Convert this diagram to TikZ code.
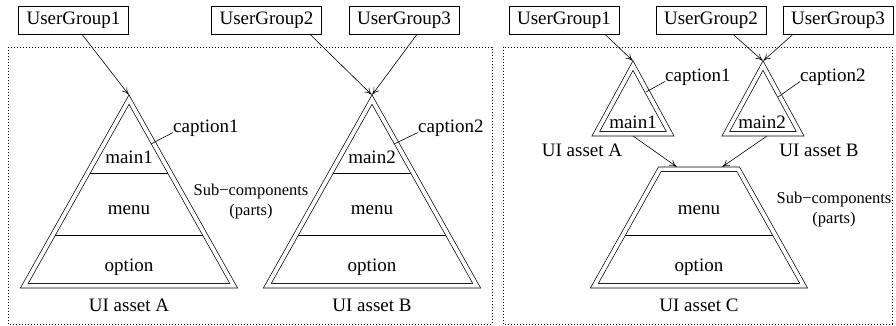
\documentclass[tikz,border=0pt]{standalone}
\usepackage{fontspec}
\setmainfont{Liberation Serif}
\usetikzlibrary{arrows.meta,calc}

\tikzset{
  grp/.style={draw, line width=0.7pt, inner xsep=8pt, minimum height=28pt,
              font=\fontsize{19}{22}\selectfont},
  lbl/.style={font=\fontsize{19}{22}\selectfont, inner sep=0pt,
              text height=13pt, text depth=4pt},
  sublbl/.style={font=\fontsize{16.5}{20}\selectfont, align=center, inner sep=0pt},
  panel/.style={line width=0.8pt, dash pattern=on 0.8pt off 2.2pt},
  outline/.style={draw, line width=0.7pt, double=white, double distance=3.8pt,
                  line join=miter},
  partline/.style={line width=0.7pt},
  link/.style={line width=0.6pt, -{To[length=7pt,width=6.5pt]}, shorten >=0.5pt},
  leader/.style={line width=0.6pt},
}

\begin{document}
\begin{tikzpicture}[x=1pt,y=-1pt]
\useasboundingbox (0,0) rectangle (896,326);

% dotted frames of the two variants
\draw[panel] (8,47) rectangle (492,324);
\draw[panel] (503,47) rectangle (892,324);

% ---------- left variant: two separate assets ----------
\node[grp] (gA1) at (73.5,20) {UserGroup1};
\node[grp] (gA2) at (266.5,20) {UserGroup2};
\node[grp] (gA3) at (404,20) {UserGroup3};

% asset A (mid-line of the double outline)
\coordinate (aT) at (129,99.6);
\coordinate (aL) at (24.3,285.75);
\coordinate (aR) at (233.7,285.75);
\coordinate (aTop) at (129,95);
\begin{scope}
  \clip (aT) -- (aL) -- (aR) -- cycle;
  \draw[partline] (0,173) -- (896,173) (0,235) -- (896,235);
\end{scope}
\draw[outline] (aT) -- (aL) -- (aR) -- cycle;

% asset B
\coordinate (bT) at (372,99.6);
\coordinate (bL) at (267.3,285.75);
\coordinate (bR) at (476.7,285.75);
\coordinate (bTop) at (372,95);
\begin{scope}
  \clip (bT) -- (bL) -- (bR) -- cycle;
  \draw[partline] (0,173) -- (896,173) (0,235) -- (896,235);
\end{scope}
\draw[outline] (bT) -- (bL) -- (bR) -- cycle;

\node[lbl] (amain) at (129,159) {main1};
\node[lbl] (amenu) at (129,210) {menu};
\node[lbl] (aopt) at (129,267) {option};
\node[lbl] (aname) at (129,307) {UI asset A};

\node[lbl] (bmain) at (372,159) {main2};
\node[lbl] (bmenu) at (372,210) {menu};
\node[lbl] (bopt) at (372,267) {option};
\node[lbl] (bname) at (372,307) {UI asset B};

\node[lbl, anchor=west] (acap) at (173,128) {caption1};
\coordinate (aedge) at (151,144);
\draw[leader] (aedge) -- (acap.base west);
\node[lbl, anchor=west] (bcap) at (418,128) {caption2};
\coordinate (bedge) at (394,144);
\draw[leader] (bedge) -- (bcap.base west);

\node[sublbl] (subL) at (251,202) {Sub−components\\(parts)};

\draw[link] ([xshift=8.5pt]gA1.south) -- (aTop);
\draw[link] ([xshift=43.5pt]gA2.south) -- (bTop);
\draw[link] ([xshift=13pt]gA3.south) -- (bTop);

% ---------- right variant: assets A and B feeding asset C ----------
\node[grp] (gB1) at (564,20) {UserGroup1};
\node[grp] (gB2) at (711,20) {UserGroup2};
\node[grp] (gB3) at (838,20) {UserGroup3};

% small asset A
\coordinate (sT) at (633,65.6);
\coordinate (sL) at (595.8,133.75);
\coordinate (sR) at (670.2,133.75);
\coordinate (sTop) at (633,61);
\coordinate (sBot) at (633,136);
\draw[outline] (sT) -- (sL) -- (sR) -- cycle;

% small asset B
\coordinate (tT) at (763,65.6);
\coordinate (tL) at (725.8,133.75);
\coordinate (tR) at (800.2,133.75);
\coordinate (tTop) at (763,61);
\coordinate (tBot) at (767,136);
\draw[outline] (tT) -- (tL) -- (tR) -- cycle;

% asset C (truncated pyramid)
\coordinate (c1) at (659.8,169.25);
\coordinate (c2) at (738.2,169.25);
\coordinate (c3) at (803.66,285.75);
\coordinate (c4) at (594.34,285.75);
\coordinate (cinA) at (677,167);
\coordinate (cinB) at (722,167);
\begin{scope}
  \clip (c1) -- (c2) -- (c3) -- (c4) -- cycle;
  \draw[partline] (0,235) -- (896,235);
\end{scope}
\draw[outline] (c1) -- (c2) -- (c3) -- (c4) -- cycle;

\node[lbl] (smain) at (633,124) {main1};
\node[lbl] (tmain) at (762,124) {main2};
\node[lbl] (sname) at (582,152) {UI asset A};
\node[lbl] (tname) at (819,152) {UI asset B};

\node[lbl, anchor=west] (scap) at (665,77) {caption1};
\coordinate (sedge) at (646,92);
\draw[leader] (sedge) -- (scap.base west);
\node[lbl, anchor=west] (tcap) at (800,77) {caption2};
\coordinate (tedge) at (778,97);
\draw[leader] (tedge) -- (tcap.base west);

\node[lbl] (cmenu) at (699,210) {menu};
\node[lbl] (copt) at (699,267) {option};
\node[lbl] (cname) at (699,307) {UI asset C};
\node[sublbl] (subR) at (834,210) {Sub−components\\(parts)};

\draw[link] ([xshift=41pt]gB1.south) -- (sTop);
\draw[link] ([xshift=22pt]gB2.south) -- (tTop);
\draw[link] ([xshift=-45pt]gB3.south) -- (tTop);
\draw[link] (sBot) -- (cinA);
\draw[link] (tBot) -- (cinB);
\end{tikzpicture}
\end{document}
